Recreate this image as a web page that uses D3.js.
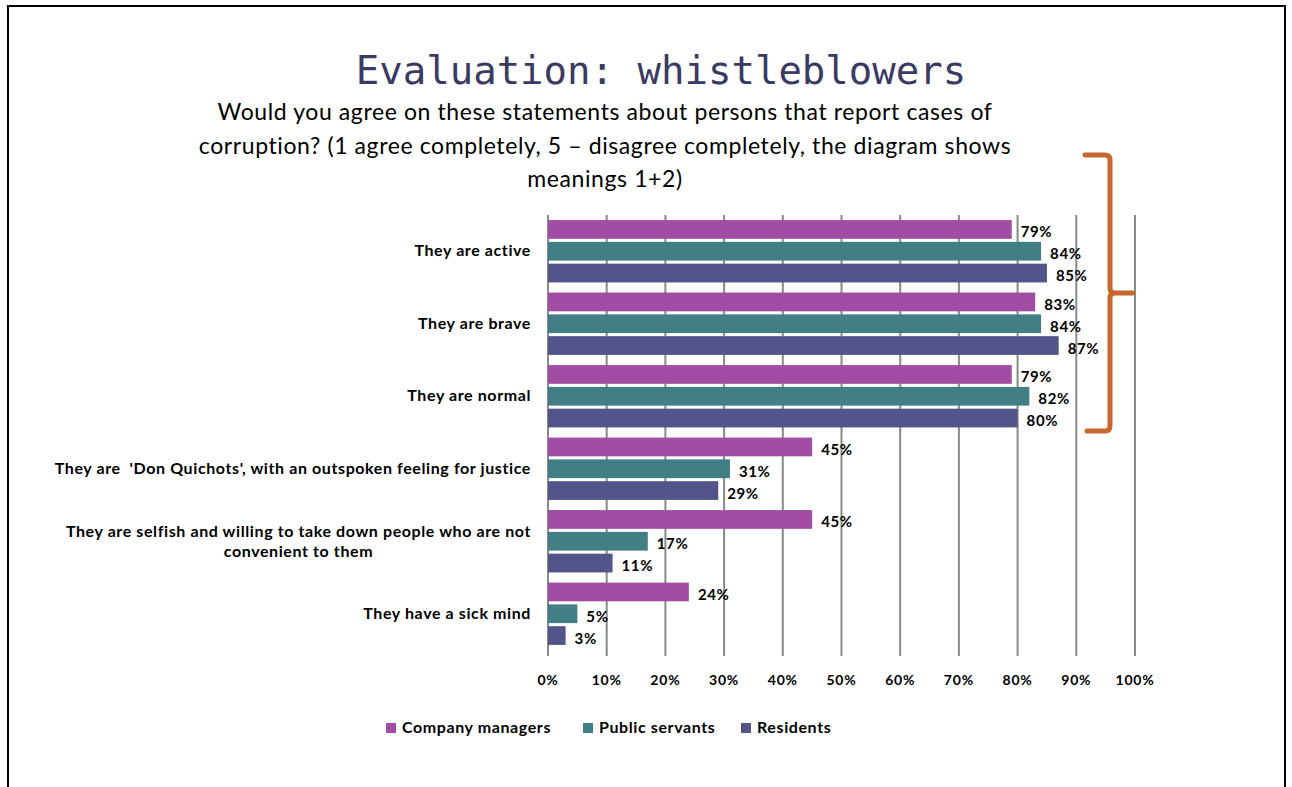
<!DOCTYPE html>
<html>
<head>
<meta charset="utf-8">
<script src="https://cdn.jsdelivr.net/npm/d3@7"></script>
<style>
  body { margin: 0; background: white; }
  svg { display: block; }
</style>
</head>
<body>
<div id="chart"></div>
<script>
// statements, top to bottom
const categories = [
  ["They are active"],
  ["They are brave"],
  ["They are normal"],
  ["They are  'Don Quichots', with an outspoken feeling for justice"],
  ["They are selfish and willing to take down people who are not", "convenient to them"],
  ["They have a sick mind"]
];
const seriesNames = ["Company managers", "Public servants", "Residents"];
const managers = [79, 83, 79, 45, 45, 24];
const servants = [84, 84, 82, 31, 17, 5];
const residents = [85, 87, 80, 29, 11, 3];
const xTicks = [0, 10, 20, 30, 40, 50, 60, 70, 80, 90, 100];
const colors = ["#A04DA3", "#427F85", "#52548A"];

const seriesValues = [managers, servants, residents];

let dim = { width: 1292, height: 787 };
let svg = d3.select('#chart').append('svg')
    .attr('width', dim.width)
    .attr('height', dim.height);

// slide frame
svg.append('path')
    .attr('d', 'M8,787 V6 H1285 V787')
    .attr('fill', 'none')
    .attr('stroke', 'black')
    .attr('stroke-width', 2);

svg.append('text')
    .attr('x', 661).attr('y', 84)
    .attr('text-anchor', 'middle')
    .style('font-family', '"DejaVu Sans Mono", monospace')
    .style('font-size', '39px')
    .attr('fill', '#3A3A62')
    .text('Evaluation: whistleblowers');

let subLines = [
  "Would you agree on these statements about persons that report cases of",
  "corruption? (1 agree completely, 5 \u2013 disagree completely, the diagram shows",
  "meanings 1+2)"
];
svg.append('g').selectAll('text')
    .data(subLines)
    .join('text')
    .attr('x', 605)
    .attr('y', (d, i) => 120 + i * 33.5)
    .attr('text-anchor', 'middle')
    .style('font-family', 'Lato, sans-serif')
    .style('font-size', '23px')
    .style('letter-spacing', '0.6px')
    .attr('fill', 'black')
    .text(d => d);

let x = d3.scaleLinear().domain([0, 100]).range([548, 1135]);
let y0 = d3.scaleBand().domain(d3.range(categories.length)).range([215, 650]).paddingInner(0.14).paddingOuter(0.07);
let y1 = d3.scaleBand().domain(d3.range(3)).range([0, y0.bandwidth()]).paddingInner(0.14);

// gridlines
svg.append('g').selectAll('line')
    .data(xTicks)
    .join('line')
    .attr('x1', d => x(d)).attr('x2', d => x(d))
    .attr('y1', 215).attr('y2', 656)
    .attr('stroke', '#898989')
    .attr('stroke-width', 2);

// tick labels
svg.append('g').selectAll('text')
    .data(xTicks)
    .join('text')
    .attr('x', d => x(d))
    .attr('y', 685)
    .attr('text-anchor', 'middle')
    .style('font-family', 'Lato, sans-serif')
    .style('font-weight', 'bold')
    .style('font-size', '14px')
    .style('letter-spacing', '0.8px')
    .text(d => d + '%');

// bars
let groups = svg.append('g').selectAll('g')
    .data(categories)
    .join('g')
    .attr('transform', (d, i) => 'translate(0,' + y0(i) + ')');

groups.selectAll('rect')
    .data((d, i) => seriesValues.map((s, j) => ({ v: s[i], j: j })))
    .join('rect')
    .attr('x', x(0))
    .attr('y', d => y1(d.j))
    .attr('width', d => x(d.v) - x(0))
    .attr('height', y1.bandwidth())
    .attr('fill', d => colors[d.j]);

groups.selectAll('text.val')
    .data((d, i) => seriesValues.map((s, j) => ({ v: s[i], j: j })))
    .join('text')
    .attr('class', 'val')
    .attr('x', d => x(d.v) + 9)
    .attr('y', d => y1(d.j) + y1.bandwidth() / 2 + 8)
    .style('font-family', 'Lato, sans-serif')
    .style('font-weight', 'bold')
    .style('font-size', '15px')
    .style('letter-spacing', '0.6px')
    .text(d => d.v + '%');

// category labels
groups.each(function(lines, i) {
    let g = d3.select(this);
    let mid = y0.bandwidth() / 2;
    let t = g.append('text')
        .style('font-family', 'Lato, sans-serif')
        .style('font-weight', 'bold')
        .style('font-size', '16px')
        .style('letter-spacing', '0.6px')
        .style('white-space', 'pre');
    if (lines.length == 1) {
        t.attr('x', 531).attr('y', mid + 5).attr('text-anchor', 'end').text(lines[0]);
    } else {
        t.attr('text-anchor', 'middle');
        lines.forEach((l, k) => {
            t.append('tspan').attr('x', 0).attr('y', mid - 4 + k * 20).text(l);
        });
        let w = t.node().getBBox().width;
        t.selectAll('tspan').attr('x', 531 - w / 2);
    }
});

// orange brace over the first three statements
svg.append('path')
    .attr('d', 'M1085,155 H1105 Q1110,155 1110,160 V288 Q1110,293 1115,293 H1133 M1115,293 Q1110,293 1110,298 V426 Q1110,431 1105,431 H1087')
    .attr('fill', 'none')
    .attr('stroke', '#C8662F')
    .attr('stroke-width', 5)
    .attr('stroke-linecap', 'round');

// legend
let legendX = [386, 583, 741];
let legend = svg.append('g').selectAll('g')
    .data(seriesNames)
    .join('g')
    .attr('transform', (d, i) => 'translate(' + legendX[i] + ',723)');
legend.append('rect')
    .attr('width', 10).attr('height', 10)
    .attr('fill', (d, i) => colors[i]);
legend.append('text')
    .attr('x', 16).attr('y', 10)
    .style('font-family', 'Lato, sans-serif')
    .style('font-weight', 'bold')
    .style('font-size', '16px')
    .style('letter-spacing', '0.6px')
    .text(d => d);
</script>
</body>
</html>
